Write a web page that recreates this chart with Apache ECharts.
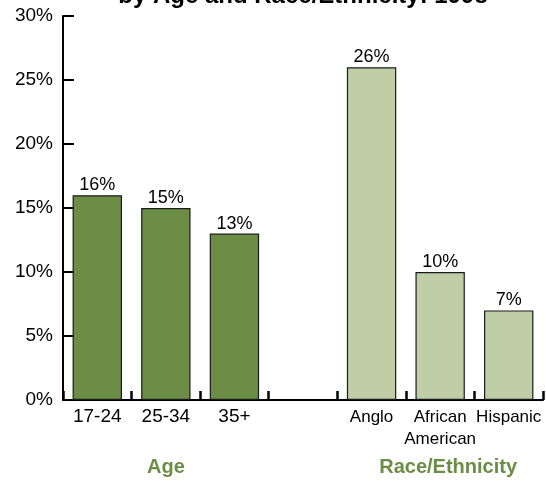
<!DOCTYPE html>
<html>
<head>
<meta charset="utf-8">
<script src="https://cdn.jsdelivr.net/npm/echarts@6/dist/echarts.min.js"></script>
<style>
  html, body { margin: 0; padding: 0; background: #fff; }
  #chart { width: 546px; height: 481px; }
</style>
</head>
<body>
<div id="chart"></div>
<script>
// Share of students, by age group and by race/ethnicity (1998)
const categories = ['17-24', '25-34', '35+', '', 'Anglo', 'African\nAmerican', 'Hispanic'];
const values = [16, 15, 13, null, 26, 10, 7];
const groups = ['age', 'age', 'age', 'gap', 'race', 'race', 'race'];
const yTicks = [0, 5, 10, 15, 20, 25, 30];

const groupColor = { age: '#6B8D45', race: '#C0CEA8', gap: '#ffffff' };
const labelSize = { age: 19, race: 17, gap: 17 };
const FONT = 'Liberation Sans, Arial, sans-serif';

const chart = echarts.init(document.getElementById('chart'));

chart.setOption({
  animation: false,
  textStyle: { fontFamily: FONT },
  grid: { left: 63, right: 3, top: 16, bottom: 81, containLabel: false },
  xAxis: {
    type: 'category',
    data: categories.map((c, i) => ({
      value: c,
      textStyle: { fontSize: labelSize[groups[i]], color: '#000', lineHeight: 22 }
    })),
    axisLine: { lineStyle: { color: '#000', width: 2 } },
    axisTick: { show: true, inside: true, length: 9, lineStyle: { color: '#000', width: 2.5 } },
    axisLabel: { margin: 6, interval: 0, fontFamily: FONT }
  },
  yAxis: {
    type: 'value',
    min: yTicks[0],
    max: yTicks[yTicks.length - 1],
    interval: 5,
    splitLine: { show: false },
    axisLine: { show: true, lineStyle: { color: '#000', width: 2 } },
    axisTick: { show: true, inside: true, length: 11, lineStyle: { color: '#000', width: 2 } },
    axisLabel: { formatter: '{value}%', color: '#000', fontSize: 19, margin: 10, fontFamily: FONT }
  },
  series: [{
    type: 'bar',
    barCategoryGap: '28%',
    data: values.map((v, i) => ({
      value: v,
      itemStyle: { color: groupColor[groups[i]], borderColor: '#1a1a1a', borderWidth: 1.2 }
    })),
    label: {
      show: true,
      position: 'top',
      distance: 1,
      formatter: p => p.value == null ? '' : p.value + '%',
      color: '#000',
      fontSize: 18,
      fontFamily: FONT
    }
  }]
});

// Group captions under their categories, plus the clipped title line
const ageX = chart.convertToPixel({ xAxisIndex: 0 }, 1);
const raceX = chart.convertToPixel({ xAxisIndex: 0 }, 5) + 8;

chart.setOption({
  graphic: [
    {
      type: 'text', x: 303, y: 8,
      style: { text: 'by Age and Race/Ethnicity: 1998', fontSize: 24, fontWeight: 'bold', fill: '#000', align: 'center', verticalAlign: 'bottom', fontFamily: FONT }
    },
    {
      type: 'text', x: ageX, y: 467,
      style: { text: 'Age', fontSize: 20, fontWeight: 'bold', fill: '#6B8D45', align: 'center', verticalAlign: 'middle', fontFamily: FONT }
    },
    {
      type: 'text', x: raceX, y: 467,
      style: { text: 'Race/Ethnicity', fontSize: 20, fontWeight: 'bold', fill: '#6B8D45', align: 'center', verticalAlign: 'middle', fontFamily: FONT }
    }
  ]
});
</script>
</body>
</html>
